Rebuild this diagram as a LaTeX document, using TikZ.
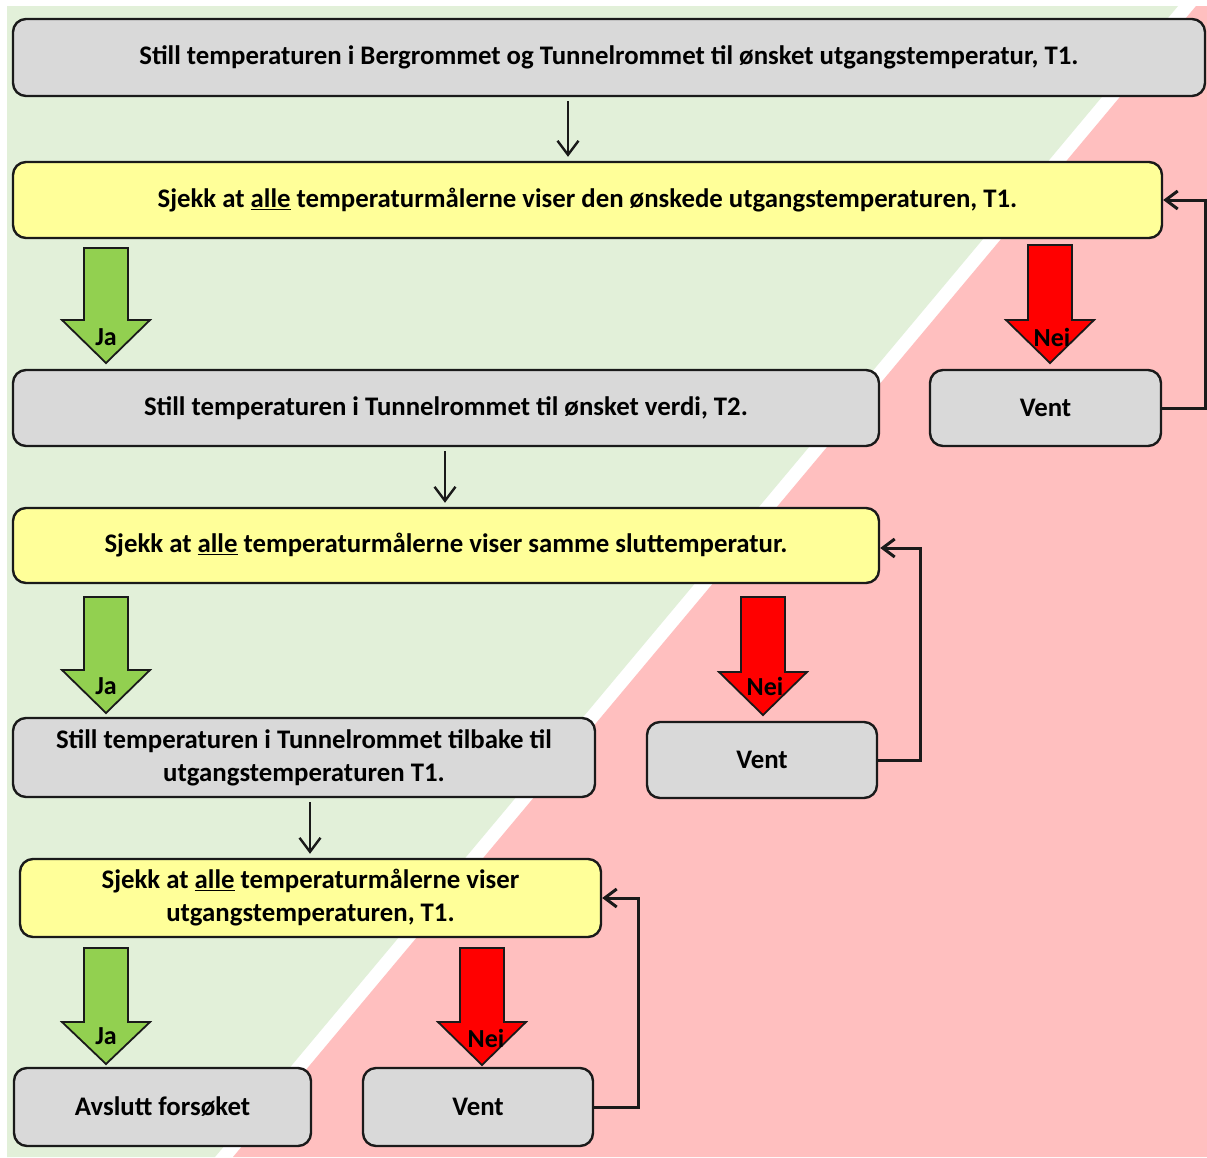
\documentclass[tikz,border=0pt]{standalone}
\usepackage{fontspec}
\setmainfont{Carlito}
\usetikzlibrary{arrows.meta}
\definecolor{bggreen}{HTML}{E2F0D9}
\definecolor{bgpink}{HTML}{FFBFBF}
\definecolor{boxgray}{HTML}{D9D9D9}
\definecolor{boxyellow}{HTML}{FFFF99}
\definecolor{boxline}{HTML}{1A1A1A}
\definecolor{jagreen}{HTML}{92D050}
\definecolor{neired}{HTML}{FF0000}
\newcommand\BigArrowShape[5]{%
  \filldraw[bigarrow, fill=#5] (#1-22,#2) -- (#1+22,#2) -- (#1+22,#3) -- (#1+44,#3) -- (#1,#4) -- (#1-44,#3) -- (#1-22,#3) -- cycle;}
\begin{document}
\begin{tikzpicture}[x=1pt,y=-1pt,
  box/.style={draw=boxline, line width=2.4pt, rounded corners=13pt, inner sep=0pt, align=center,
    font=\bfseries\fontsize{26.8}{33}\selectfont},
  graybox/.style={box, fill=boxgray},
  yellowbox/.style={box, fill=boxyellow},
  flow/.style={line width=2.4pt, draw=boxline, -{Straight Barb[length=14pt,width=21pt]}, shorten <=4pt, shorten >=4pt},
  back/.style={line width=3pt, draw=boxline, -{Straight Barb[length=12pt,width=18pt]}},
  bigarrow/.style={draw=boxline, line width=1.8pt},
  lbl/.style={inner sep=0pt, font=\bfseries\fontsize{26}{28}\selectfont}]
\useasboundingbox (0,0) rectangle (1207,1157);
% background
\fill[white] (0,0) rectangle (1207,1157);
\fill[bggreen] (7,6) -- (1178,6) -- (215,1157) -- (7,1157) -- cycle;
\fill[bgpink] (1196,6) -- (1207,6) -- (1207,1157) -- (233,1157) -- cycle;
% boxes
\node[graybox, minimum width=1192pt, minimum height=77pt] (b1) at (609,57.5)
  {Still temperaturen i Bergrommet og Tunnelrommet til ønsket utgangstemperatur, T1.};
\node[yellowbox, minimum width=1149pt, minimum height=76pt] (b2) at (587.5,200)
  {Sjekk at \underline{alle} temperaturmålerne viser den ønskede utgangstemperaturen, T1.};
\node[graybox, minimum width=866pt, minimum height=76pt] (b3) at (446,408)
  {Still temperaturen i Tunnelrommet til ønsket verdi, T2.};
\node[graybox, minimum width=231pt, minimum height=76pt] (v1) at (1045.5,408) {Vent};
\node[yellowbox, minimum width=866pt, minimum height=75pt] (b4) at (446,545.5)
  {Sjekk at \underline{alle} temperaturmålerne viser samme sluttemperatur.};
\node[graybox, minimum width=582pt, minimum height=79pt] (b5) at (304,757.5)
  {Still temperaturen i Tunnelrommet tilbake til\\utgangstemperaturen T1.};
\node[graybox, minimum width=230pt, minimum height=76pt] (v2) at (762,760) {Vent};
\node[yellowbox, minimum width=581pt, minimum height=78pt] (b6) at (310.5,898)
  {Sjekk at \underline{alle} temperaturmålerne viser\\utgangstemperaturen, T1.};
\node[graybox, minimum width=297pt, minimum height=78pt] (b7) at (162.5,1107) {Avslutt forsøket};
\node[graybox, minimum width=230pt, minimum height=78pt] (v3) at (478,1107) {Vent};
% thin flow arrows
\draw[flow] (b1.south -| 568,0) -- (b2.north -| 568,0);
\draw[flow] (b3.south -| 445,0) -- (b4.north -| 445,0);
\draw[flow] (b5.south -| 310,0) -- (b6.north -| 310,0);
% feedback loops
\draw[back] (v1.east) -- (1205,408) -- (1205,200) -- (b2.east);
\draw[back] (v2.east) -- (920,760) -- (920,548) -- (b4.east |- 0,548);
\draw[back] (v3.east) -- (638,1107) -- (638,898) -- (b6.east);
% big arrows
\BigArrowShape{106}{248}{320}{363}{jagreen}
\BigArrowShape{1050}{245}{320}{363}{neired}
\BigArrowShape{106}{597}{670}{713}{jagreen}
\BigArrowShape{763}{597}{672}{715}{neired}
\BigArrowShape{106}{948}{1022}{1064}{jagreen}
\BigArrowShape{482}{948}{1022}{1065}{neired}
\node[lbl] (ja1) at (106,337) {Ja};
\node[lbl] (nei1) at (1052,337) {Nei};
\node[lbl] (ja2) at (106,686) {Ja};
\node[lbl] (nei2) at (765,686) {Nei};
\node[lbl] (ja3) at (106,1036) {Ja};
\node[lbl] (nei3) at (486,1038) {Nei};
\end{tikzpicture}
\end{document}
